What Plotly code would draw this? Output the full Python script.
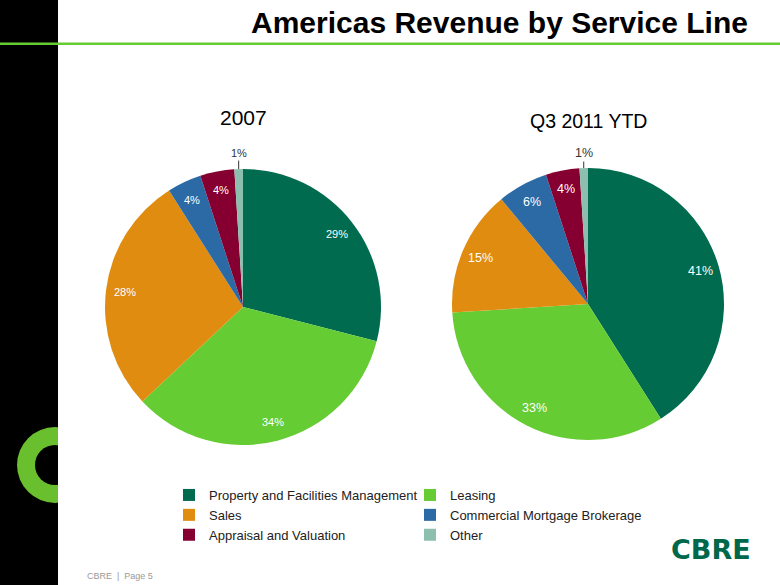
import math
import plotly.graph_objects as go

# ---------------- data ----------------
categories = ["Property and Facilities Management", "Leasing", "Sales",
              "Commercial Mortgage Brokerage", "Appraisal and Valuation", "Other"]
values_2007 = [29, 34, 28, 4, 4, 1]
values_2011 = [41, 33, 15, 6, 4, 1]
pie_titles = ["2007", "Q3 2011 YTD"]
colors = ["#006B4E", "#66CC33", "#DF8C10", "#2C6AA5", "#850030", "#8CBFAE"]
title_text = "Americas Revenue by Service Line"
footer_text = "CBRE  |  Page 5"
logo_text = "CBRE"

# ---------------- geometry helpers ----------------
W, H = 780, 585
ML, MR = 100, 56
PW = W - ML - MR
FONT = "Liberation Sans, Arial, sans-serif"


def fx(px):
    return (px - ML) / PW


def fy(py):
    return 1 - py / H


pies = [
    dict(values=values_2007, cx=243, cy=307, r=138, fs=11, title=pie_titles[0], ty=118,
         tfs=21, lead=16),
    dict(values=values_2011, cx=588, cy=304, r=136, fs=12.5, title=pie_titles[1], ty=121,
         tfs=19.5, lead=15),
]

fig = go.Figure()
annotations = []

for p in pies:
    cx, cy, r = p["cx"], p["cy"], p["r"]
    fig.add_trace(go.Pie(
        labels=categories, values=p["values"], sort=False, direction="clockwise",
        rotation=0, textinfo="none", hoverinfo="label+percent",
        marker=dict(colors=colors, line=dict(width=0)),
        domain=dict(x=[fx(cx - r), fx(cx + r)], y=[fy(cy + r), fy(cy - r)]),
    ))
    total = sum(p["values"])
    cum = 0
    for i, v in enumerate(p["values"]):
        mid = (cum + v / 2) / total * 2 * math.pi
        cum += v
        if i == len(p["values"]) - 1:
            ex = cx + r * math.sin(mid)
            ey = cy - r * math.cos(mid)
            annotations.append(dict(
                x=fx(ex), y=fy(ey), xref="paper", yref="paper", text=f"{v}%",
                showarrow=True, arrowhead=0, arrowwidth=1, arrowcolor="#333333",
                ax=0, ay=-p["lead"], standoff=0,
                font=dict(size=p["fs"], color="#333333", family=FONT)))
        else:
            rf = 0.86
            lx = cx + rf * r * math.sin(mid)
            ly = cy - rf * r * math.cos(mid)
            annotations.append(dict(
                x=fx(lx), y=fy(ly), xref="paper", yref="paper", text=f"{v}%",
                showarrow=False, xanchor="center", yanchor="middle",
                font=dict(size=p["fs"], color="white", family=FONT)))
    annotations.append(dict(
        x=fx(cx + 0.5), y=fy(p["ty"]), xref="paper", yref="paper", text=p["title"],
        showarrow=False, xanchor="center", yanchor="middle",
        font=dict(size=p["tfs"], color="black", family=FONT)))

# title, footer, logo
annotations.append(dict(
    x=fx(750), y=fy(23), xref="paper", yref="paper", text=title_text, showarrow=False,
    xanchor="right", yanchor="middle",
    font=dict(size=30, color="black", family=FONT, weight="bold")))
annotations.append(dict(
    x=fx(85), y=fy(576), xref="paper", yref="paper", text=footer_text, showarrow=False,
    xanchor="left", yanchor="middle", font=dict(size=9, color="#999999", family=FONT)))
annotations.append(dict(
    x=fx(711), y=fy(549), xref="paper", yref="paper", text=logo_text, showarrow=False,
    xanchor="center", yanchor="middle",
    font=dict(size=27, color="#00684A", family="DejaVu Sans, sans-serif", weight="bold")))

shapes = [
    # black side bar
    dict(type="rect", xref="paper", yref="paper", x0=fx(0), x1=fx(58), y0=fy(H), y1=fy(0),
         fillcolor="black", line=dict(width=0), layer="below"),
    # green "C" ring
    dict(type="circle", xref="paper", yref="paper", x0=fx(17), x1=fx(93), y0=fy(503), y1=fy(427),
         fillcolor="#6ABF2E", line=dict(width=0), layer="below"),
    dict(type="circle", xref="paper", yref="paper", x0=fx(35), x1=fx(75), y0=fy(485), y1=fy(445),
         fillcolor="black", line=dict(width=0), layer="below"),
    dict(type="rect", xref="paper", yref="paper", x0=fx(58), x1=fx(100), y0=fy(515), y1=fy(415),
         fillcolor="white", line=dict(width=0), layer="below"),
    # green rule under title
    dict(type="line", xref="paper", yref="paper", x0=fx(0), x1=fx(W), y0=fy(43.8), y1=fy(43.8),
         line=dict(color="#66CC33", width=2.5)),
]

fig.update_layout(
    width=W, height=H, margin=dict(l=ML, r=MR, t=0, b=0, pad=0),
    paper_bgcolor="white", plot_bgcolor="white",
    font=dict(family=FONT, color="#222222"),
    showlegend=True,
    legend=dict(orientation="h", x=fx(169), xanchor="left", y=fy(480), yanchor="top",
                entrywidth=196, entrywidthmode="pixels", traceorder="normal",
                font=dict(size=13, color="#222222", family=FONT),
                bgcolor="rgba(0,0,0,0)", borderwidth=0),
    annotations=annotations,
    shapes=shapes,
)

fig.write_html(
    "out.html",
    config={"displayModeBar": False},
    post_script="document.body.style.margin='0';document.body.style.overflow='hidden';",
)
